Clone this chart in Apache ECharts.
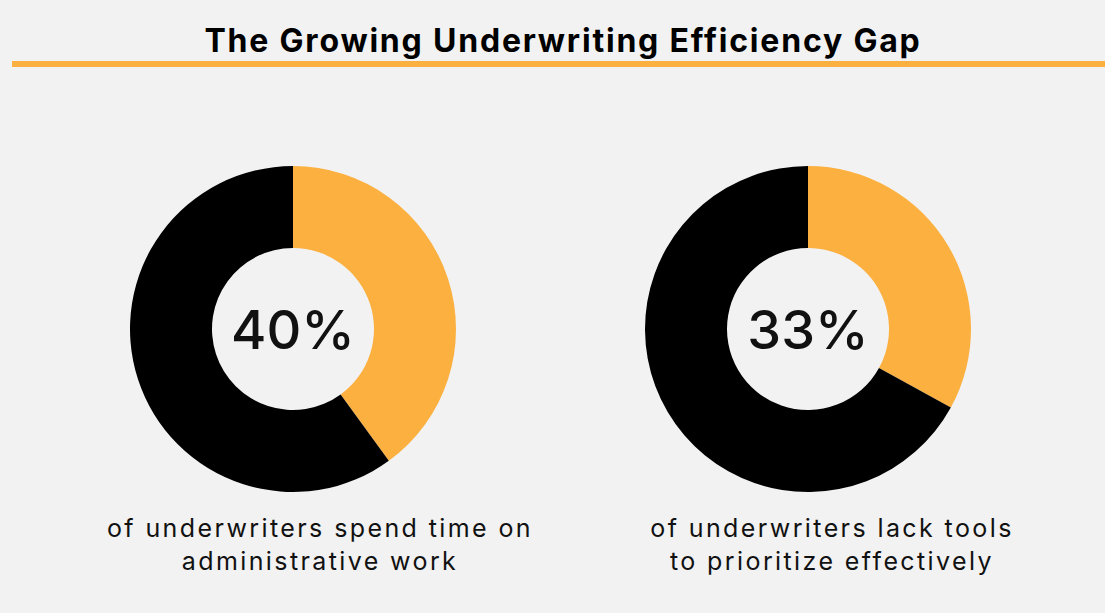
<!DOCTYPE html>
<html>
<head>
<meta charset="utf-8">
<script src="https://cdn.jsdelivr.net/npm/echarts@6/dist/echarts.min.js"></script>
<style>
  html, body { margin: 0; padding: 0; background: #f2f2f2; }
  #chart { width: 1105px; height: 613px; }
</style>
</head>
<body>
<div id="chart"></div>
<script>
// data
const shares = [40, 33];
const centerLabels = ['40%', '33%'];
const captions = [
  'of underwriters spend time on\nadministrative work',
  'of underwriters lack tools\nto prioritize effectively'
];
const sliceNames = ['Yes', 'Other'];
const chartTitle = 'The Growing Underwriting Efficiency Gap';

const ORANGE = '#FBB040';
const BLACK = '#000000';
const FONT = 'Inter, "Open Sans", sans-serif';

const centersX = [293, 808];   // donut centres
const captionX = [315, 827];   // caption centres

// svg renderer so the text can get some letter spacing (the original font is wide)
const chart = echarts.init(document.getElementById('chart'), null, { renderer: 'svg' });

let titles = [{
  text: chartTitle,
  left: 558,
  top: 19,
  textAlign: 'center',
  textStyle: { fontFamily: FONT, fontSize: 32, fontWeight: 'bold', color: '#000' }
}];

let series = [];

shares.forEach((v, i) => {
  series.push({
    type: 'pie',
    center: [centersX[i], 329],
    radius: [81, 163],
    startAngle: 90,
    clockwise: true,
    silent: true,
    label: {
      show: true,
      position: 'center',
      formatter: () => centerLabels[i],
      fontFamily: FONT,
      fontSize: 54,
      fontWeight: 500,
      color: '#111',
      padding: [0, 0, 6, 0]
    },
    labelLine: { show: false },
    emphasis: { disabled: true },
    data: [
      { name: sliceNames[0], value: v, itemStyle: { color: ORANGE } },
      { name: sliceNames[1], value: 100 - v, itemStyle: { color: BLACK } }
    ]
  });

  titles.push({
    text: captions[i],
    left: captionX[i],
    top: 506,
    textAlign: 'center',
    textStyle: {
      fontFamily: FONT,
      fontSize: 25,
      fontWeight: 'normal',
      color: '#111',
      lineHeight: 33,
      align: 'center'
    }
  });
});

chart.setOption({
  backgroundColor: '#f2f2f2',
  animation: false,
  title: titles,
  graphic: [{
    type: 'rect',
    shape: { x: 12, y: 61, width: 1093, height: 6 },
    style: { fill: ORANGE }
  }],
  series: series
});

function spaceText() {
  document.querySelectorAll('#chart text').forEach(t => {
    let s = t.textContent;
    if (s.indexOf('%') >= 0) return;
    t.style.letterSpacing = s === chartTitle ? '1.8px' : '2.4px';
  });
}
chart.on('finished', spaceText);
spaceText();
setTimeout(spaceText, 50);
</script>
</body>
</html>
